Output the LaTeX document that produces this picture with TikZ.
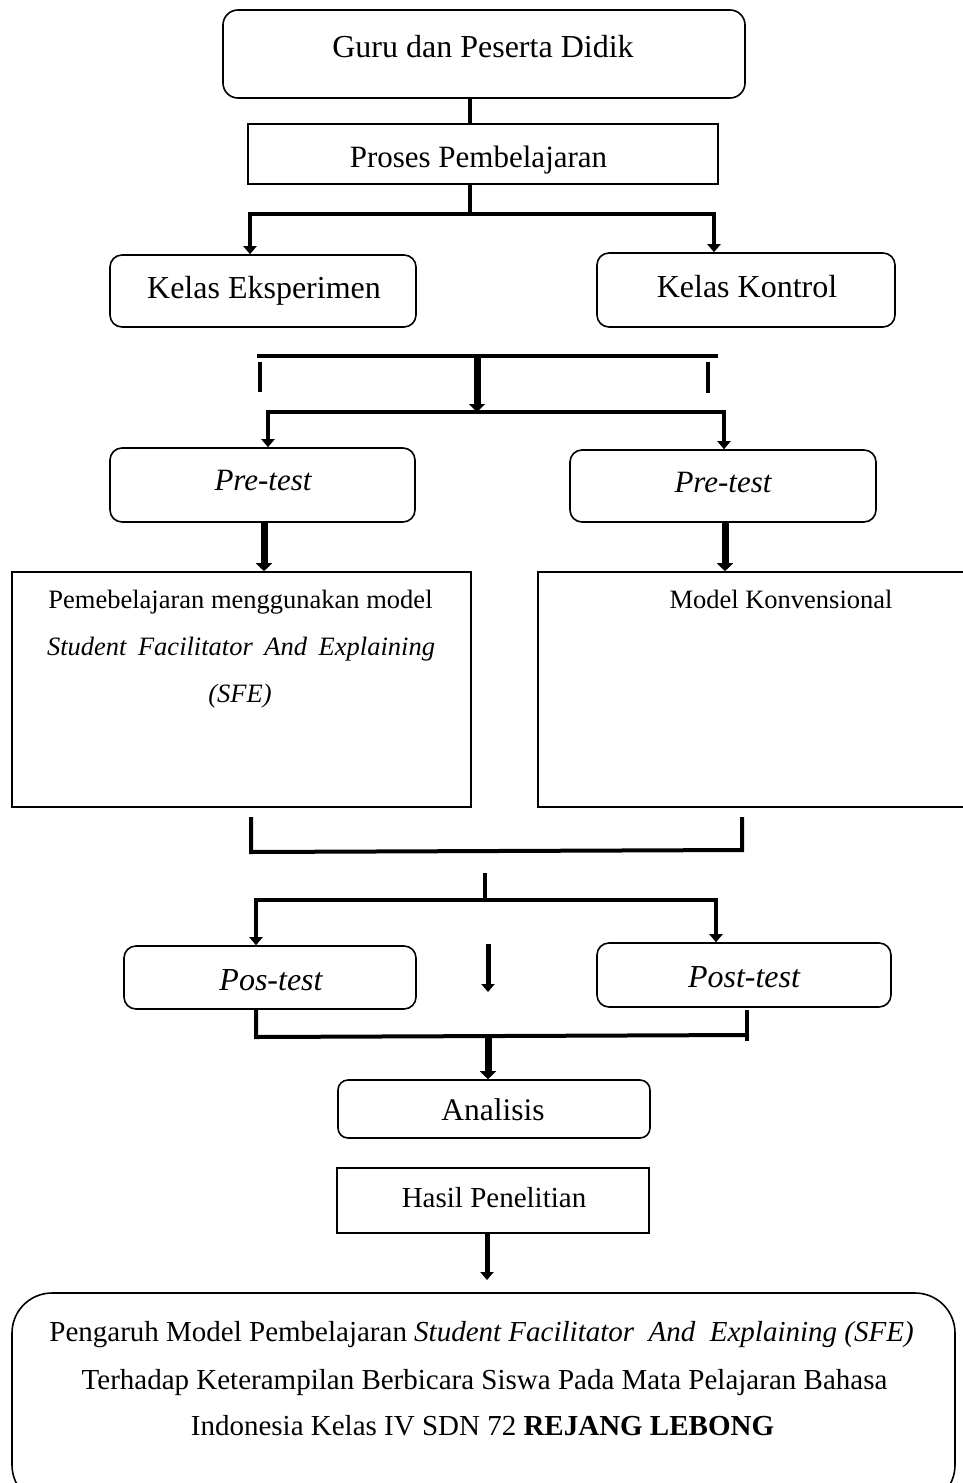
\documentclass[tikz,border=0pt]{standalone}
\usepackage{fontspec}
\setmainfont{Liberation Serif}
\usetikzlibrary{arrows.meta}
\newcommand\fsz[1]{\fontsize{#1pt}{#1pt}\selectfont}
\tikzset{
  box/.style={draw, line width=1.6pt, inner sep=0pt},
  rbox/.style={box, rounded corners=12pt},
  txt/.style={inner sep=0pt, anchor=base},
  ln/.style={line width=3.5pt},
  thk/.style={line width=4.5pt},
  arr/.style={line width=5pt, -{Triangle[length=8pt,width=13pt]}},
  arrb/.style={line width=7pt, -{Triangle[length=8pt,width=16pt]}},
  arr2/.style={line width=4.5pt, line join=miter, {Triangle[length=8pt,width=13pt]}-{Triangle[length=8pt,width=13pt]}},
}
\begin{document}
\begin{tikzpicture}[x=1pt,y=-1pt]
\useasboundingbox (0,0) rectangle (963,1483);
\fill[white] (0,0) rectangle (963,1483);

% boxes
\node[rbox, rounded corners=15pt, minimum width=522pt, minimum height=88pt] (guru) at (484,54) {};
\node[box, minimum width=470pt, minimum height=60pt] (proses) at (483,154) {};
\node[rbox, minimum width=306pt, minimum height=72pt] (kelasE) at (263,291) {};
\node[rbox, minimum width=298pt, minimum height=74pt] (kelasK) at (746,290) {};
\node[rbox, minimum width=305pt, minimum height=74pt] (preE) at (262.5,485) {};
\node[rbox, minimum width=306pt, minimum height=72pt] (preK) at (723,486) {};
\node[box, minimum width=459pt, minimum height=235pt] (sfe) at (241.5,689.5) {};
\node[box, minimum width=437pt, minimum height=235pt] (konv) at (756.5,689.5) {};
\node[rbox, minimum width=292pt, minimum height=63pt] (posE) at (270,977.5) {};
\node[rbox, minimum width=294pt, minimum height=64pt] (posK) at (744,975) {};
\node[rbox, rounded corners=10pt, minimum width=312pt, minimum height=58pt] (analisis) at (494,1109) {};
\node[box, minimum width=312pt, minimum height=65pt] (hasil) at (493,1200.5) {};
\node[rbox, rounded corners=40pt, minimum width=943pt, minimum height=212pt] (final) at (483.5,1399) {};

% texts
\node[txt, font=\fsz{32}] (guru-t) at (483,57) {Guru dan Peserta Didik};
\node[txt, font=\fsz{31}] (proses-t) at (478.5,167) {Proses Pembelajaran};
\node[txt, font=\fsz{32}] (kelasE-t) at (264,298) {Kelas Eksperimen};
\node[txt, font=\fsz{32}] (kelasK-t) at (747,297) {Kelas Kontrol};
\node[txt, font=\fsz{31}\itshape] (preE-t) at (263,490) {Pre-test};
\node[txt, font=\fsz{31}\itshape] (preK-t) at (723,492) {Pre-test};
\node[txt, font=\fsz{26.5}] (sfe-t1) at (240.5,608) {Pemebelajaran menggunakan model};
\node[txt, font=\fsz{26.5}\itshape] (sfe-t2) at (241,655) {\makebox[388pt][s]{Student Facilitator And Explaining}};
\node[txt, font=\fsz{26.5}\itshape] (sfe-t3) at (240,702) {(SFE)};
\node[txt, font=\fsz{26.5}] (konv-t) at (781,608) {Model Konvensional};
\node[txt, font=\fsz{32}\itshape] (posE-t) at (271,990) {Pos-test};
\node[txt, font=\fsz{32}\itshape] (posK-t) at (744,987) {Post-test};
\node[txt, font=\fsz{31.5}] (analisis-t) at (493,1120) {Analisis};
\node[txt, font=\fsz{29}] (hasil-t) at (494,1207) {Hasil Penelitian};
\node[txt, font=\fsz{29}] (final-t1) at (481.5,1341) {Pengaruh Model Pembelajaran \textit{Student Facilitator\ \ And\ \ Explaining (SFE)}};
\node[txt, font=\fsz{29}] (final-t2) at (484.5,1389) {Terhadap Keterampilan Berbicara Siswa Pada Mata Pelajaran Bahasa};
\node[txt, font=\fsz{29}] (final-t3) at (482.5,1435) {Indonesia Kelas IV SDN 72 \textbf{REJANG LEBONG}};

% coordinates
\coordinate (j1) at (470,214);
\coordinate (j1l) at (250,214);
\coordinate (j1r) at (714,214);
\coordinate (b1l) at (257,356);
\coordinate (b1r) at (718,356);
\coordinate (b1m) at (477,356);
\coordinate (t1a) at (260,362);
\coordinate (t1b) at (260,392);
\coordinate (t2a) at (708,362);
\coordinate (t2b) at (708,393);
\coordinate (j2) at (477,412);
\coordinate (j2l) at (268,412);
\coordinate (j2r) at (724,412);
\coordinate (x3l) at (264,0);
\coordinate (x3r) at (725,0);
\coordinate (k1) at (251,817);
\coordinate (k2) at (251,852);
\coordinate (k3) at (742,850);
\coordinate (k4) at (742,817);
\coordinate (s1) at (485,873);
\coordinate (j4) at (485,900);
\coordinate (j4l) at (256,900);
\coordinate (j4r) at (716,900);
\coordinate (m1) at (488,944);
\coordinate (m2) at (488,992);
\coordinate (x5l) at (256,0);
\coordinate (j5l) at (256,1037);
\coordinate (j5r) at (747,1035);
\coordinate (t5a) at (747,1010);
\coordinate (t5b) at (747,1041);
\coordinate (j5) at (488,1036);
\coordinate (e1) at (487,1280);

% connectors
\draw[ln] (guru.south -| j1) -- (proses.north -| j1);
\draw[ln] (proses.south -| j1) -- (j1);
\draw[arr2] (kelasE.north -| j1l) -- (j1l) -- (j1r) -- (kelasK.north -| j1r);

\draw[thk] (b1l) -- (b1r);
\draw[ln] (t1a) -- (t1b);
\draw[ln] (t2a) -- (t2b);
\draw[arrb] (b1m) -- (j2);
\draw[arr2] (preE.north -| j2l) -- (j2l) -- (j2r) -- (preK.north -| j2r);

\draw[arrb] (preE.south -| x3l) -- (sfe.north -| x3l);
\draw[arrb] (preK.south -| x3r) -- (konv.north -| x3r);

\draw[line width=4pt, line join=miter] (k1) -- (k2) -- (k3) -- (k4);
\draw[ln] (s1) -- (j4);
\draw[arr2] (posE.north -| j4l) -- (j4l) -- (j4r) -- (posK.north -| j4r);
\draw[arr] (m1) -- (m2);

\draw[line width=4pt, line join=miter] (posE.south -| x5l) -- (j5l) -- (j5r);
\draw[ln] (t5a) -- (t5b);
\draw[arrb] (j5) -- (analisis.north -| j5);
\draw[arr] (hasil.south -| e1) -- (e1);
\end{tikzpicture}
\end{document}
